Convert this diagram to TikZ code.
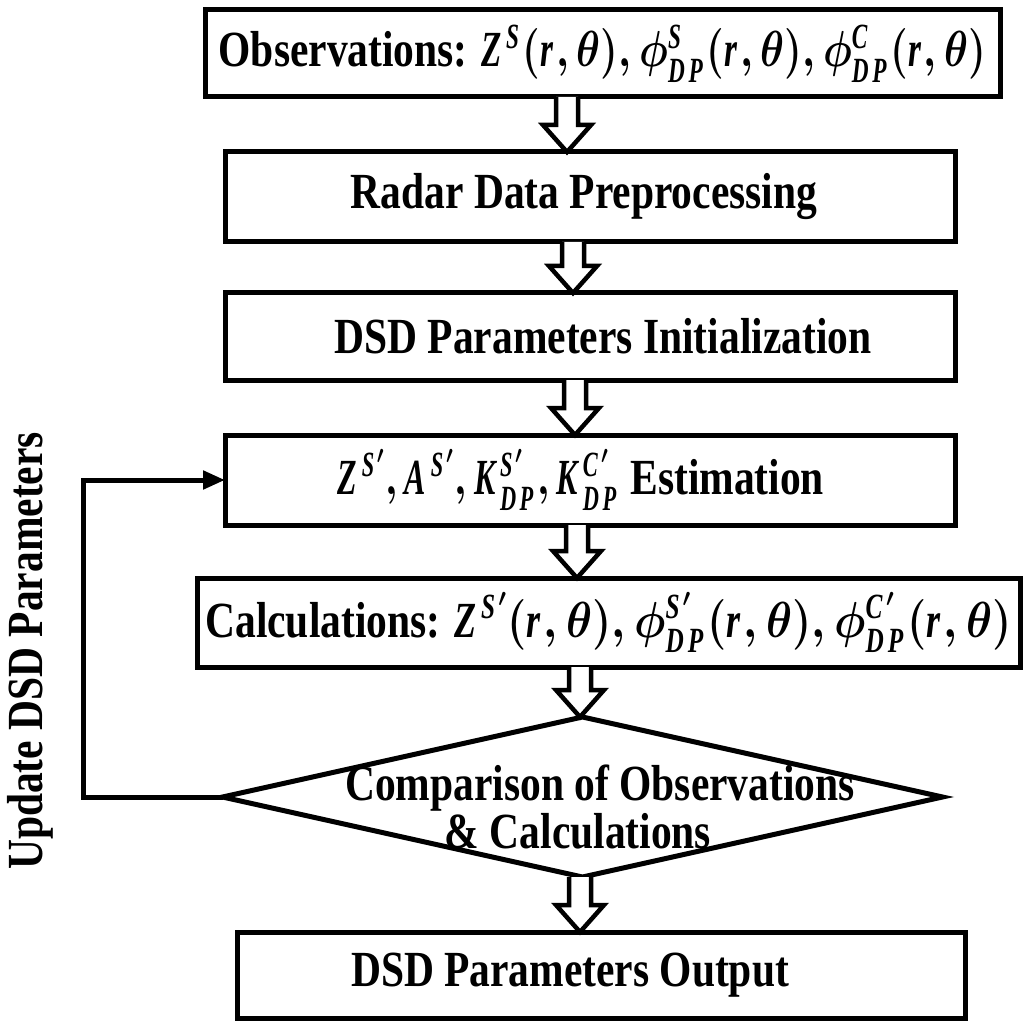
\RequirePackage{fix-cm}
\documentclass[tikz,border=0pt]{standalone}
\usepackage{fontspec}
\setmainfont{Liberation Serif}[FakeStretch=0.82]
\usepackage{graphicx}
\usetikzlibrary{calc,shapes.geometric,arrows.meta}
% italic math letters from the main (condensed) serif font
\DeclareSymbolFont{libit}{TU}{\rmdefault}{m}{it}
\SetSymbolFont{libit}{bold}{TU}{\rmdefault}{bx}{it}
\DeclareMathSymbol{A}{\mathalpha}{libit}{`A}
\DeclareMathSymbol{C}{\mathalpha}{libit}{`C}
\DeclareMathSymbol{D}{\mathalpha}{libit}{`D}
\DeclareMathSymbol{K}{\mathalpha}{libit}{`K}
\DeclareMathSymbol{P}{\mathalpha}{libit}{`P}
\DeclareMathSymbol{S}{\mathalpha}{libit}{`S}
\DeclareMathSymbol{Z}{\mathalpha}{libit}{`Z}
\DeclareMathSymbol{r}{\mathalpha}{libit}{`r}
\newcommand\sqz[2]{\scalebox{#1}[1]{$#2$}}
\newdimen\upx \upx=0.02cm
\tikzset{
  bigfont/.style={font=\bfseries\boldmath\fontsize{28.8}{34}\selectfont},
  box/.style={draw, rectangle, line width=5\upx, inner sep=0pt, outer sep=0pt, bigfont},
  decision/.style={draw, diamond, line width=5\upx, inner sep=0pt, outer sep=0pt},
  barrow/.style={draw, line width=4.5\upx, fill=white, line join=miter},
  fbline/.style={draw, line width=5\upx, -{Triangle[length=0.44cm,width=0.36cm]}},
}
\newcommand\blockarrow[3]{%
  \draw[barrow] ($(#1.south -| #3)+(-11,0)$) -- ($(#2.north -| #3)+(-11,-27)$)
    -- ($(#2.north -| #3)+(-24,-27)$) -- (#2.north -| #3)
    -- ($(#2.north -| #3)+(24,-27)$) -- ($(#2.north -| #3)+(11,-27)$)
    -- ($(#1.south -| #3)+(11,0)$);}
\begin{document}
\begin{tikzpicture}[x=0.02cm, y=-0.02cm]
\useasboundingbox (0,0) rectangle (1022,1023);
% boxes
\node[box, minimum width=795\upx, minimum height=87\upx] (b1) at (602.5,53.5)
  {Observations: \sqz{0.80}{Z^{S}(r,\theta),\phi^{S}_{DP}(r,\theta),\phi^{C}_{DP}(r,\theta)}};
\node[box, minimum width=730\upx, minimum height=90\upx] (b2) at (590,197)
  {Radar Data Preprocessing\kern12\upx};
\node[box, minimum width=730\upx, minimum height=87\upx] (b3) at (590,336.5)
  {\kern26\upx DSD Parameters Initialization};
\node[box, minimum width=730\upx, minimum height=90\upx] (b4) at (590,480)
  {\sqz{0.77}{Z^{S'},A^{S'},K^{S'}_{DP},K^{C'}_{DP}} Estimation\kern18\upx};
\node[box, minimum width=823\upx, minimum height=89\upx] (b5) at (608.5,622.5)
  {Calculations: \sqz{0.87}{Z^{S'}(r,\theta),\phi^{S'}_{DP}(r,\theta),\phi^{C'}_{DP}(r,\theta)}};
\node[decision, minimum width=720\upx, minimum height=160\upx] (dia) at (582.5,797) {};
\node[bigfont, align=center, font=\bfseries\fontsize{28.8}{25.6}\selectfont] (diatext) at (600,807)
  {Comparison of Observations\\ \& Calculations\kern44\upx};
\node[box, minimum width=728\upx, minimum height=86\upx] (b6) at (601,975)
  {DSD Parameters Output\kern62\upx};
\node[bigfont, rotate=90] (upd) at (30,651) {Update DSD Parameters};
% spine positions for block arrows
\coordinate (s1) at (567,0);
\coordinate (s2) at (573,0);
\coordinate (s3) at (575,0);
\coordinate (s4) at (577,0);
\coordinate (s5) at (580,0);
\coordinate (s6) at (580,0);
\blockarrow{b1}{b2}{s1}
\blockarrow{b2}{b3}{s2}
\blockarrow{b3}{b4}{s3}
\blockarrow{b4}{b5}{s4}
\blockarrow{b5}{dia}{s5}
\blockarrow{dia}{b6}{s6}
% feedback loop
\coordinate (fbx) at (83,0);
\draw[fbline] (dia.west) -- (dia.west -| fbx) |- (b4.west);
\end{tikzpicture}
\end{document}
